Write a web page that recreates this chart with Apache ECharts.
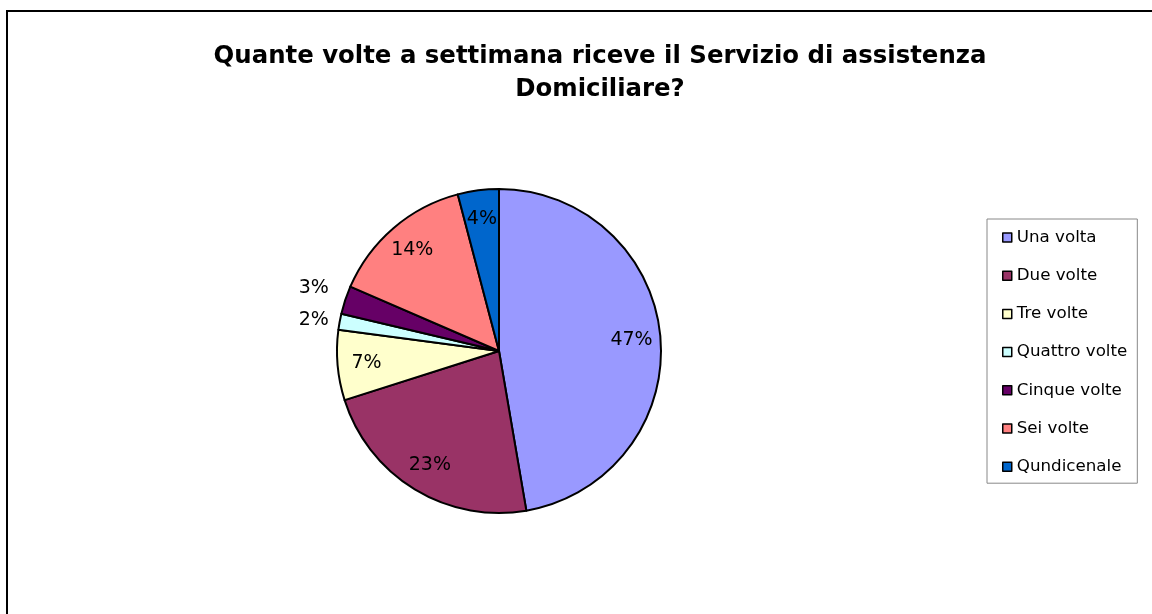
<!DOCTYPE html>
<html>
<head>
<meta charset="utf-8">
<script src="https://cdn.jsdelivr.net/npm/echarts@6/dist/echarts.min.js"></script>
<style>
html,body{margin:0;padding:0;background:#fff;}
#chart{width:1152px;height:614px;}
</style>
</head>
<body>
<div id="chart"></div>
<script>
const titleText = 'Quante volte a settimana riceve il Servizio di assistenza\nDomiciliare?';
const categories = ['Una volta', 'Due volte', 'Tre volte', 'Quattro volte', 'Cinque volte', 'Sei volte', 'Qundicenale'];
const values = [47.3, 22.8, 7.0, 1.6, 2.8, 14.4, 4.1];
const colors = ['#9999FF', '#993366', '#FFFFCC', '#CCFFFF', '#660066', '#FF8080', '#0066CC'];
const outsideLabel = [false, false, false, true, true, false, false];
const outsideLen = [0, 0, 0, 6, 12, 0, 0];
const outsideRaise = [false, false, false, false, true, false, false];

const FONT = 'DejaVu Sans';
const chart = echarts.init(document.getElementById('chart'), null, {renderer: 'canvas'});

const mainData = categories.map((c, i) => ({
  name: c,
  value: values[i],
  itemStyle: {color: colors[i]},
  label: {
    show: outsideLabel[i],
    formatter: outsideRaise[i] ? '{d}%\n' : '{d}%',
    lineHeight: outsideRaise[i] ? 16 : 19
  },
  labelLine: {show: false, length: outsideLen[i], length2: 0}
}));
const labelData = categories.map((c, i) => ({
  name: c,
  value: values[i],
  label: {show: !outsideLabel[i]}
}));

chart.setOption({
  animation: false,
  backgroundColor: '#fff',
  title: {
    text: titleText,
    left: 595,
    top: 35,
    textAlign: 'center',
    padding: 5,
    textStyle: {fontFamily: FONT, fontSize: 24.4, fontWeight: 'bold', color: '#000', lineHeight: 33}
  },
  legend: {
    orient: 'vertical',
    left: 987,
    top: 219,
    padding: [10, 10, 8, 15],
    itemGap: 21.2,
    itemWidth: 9,
    itemHeight: 9,
    icon: 'rect',
    borderColor: '#888',
    borderWidth: 1,
    data: categories,
    itemStyle: {borderColor: '#000', borderWidth: 1.5},
    textStyle: {fontFamily: FONT, fontSize: 16.7, color: '#000', lineHeight: 17}
  },
  graphic: [{
    type: 'rect',
    silent: true,
    shape: {x: 7, y: 11, width: 1400, height: 900},
    style: {fill: 'none', stroke: '#000', lineWidth: 2}
  }],
  series: [{
    type: 'pie',
    center: [499, 351],
    radius: [0, 162],
    startAngle: 90,
    clockwise: true,
    avoidLabelOverlap: false,
    labelLayout: {hideOverlap: false},
    percentPrecision: 0,
    data: mainData,
    itemStyle: {borderColor: '#000', borderWidth: 2},
    label: {position: 'outside', fontFamily: FONT, fontSize: 19, color: '#000', distanceToLabelLine: 5},
    emphasis: {disabled: true}
  }, {
    type: 'pie',
    center: [499, 351],
    radius: [0, 260],
    startAngle: 90,
    clockwise: true,
    silent: true,
    avoidLabelOverlap: false,
    labelLayout: {hideOverlap: false},
    percentPrecision: 0,
    z: 3,
    data: labelData,
    itemStyle: {color: 'rgba(0,0,0,0)', borderWidth: 0},
    label: {position: 'inside', formatter: '{d}%', fontFamily: FONT, fontSize: 19, color: '#000'},
    labelLine: {show: false},
    emphasis: {disabled: true}
  }]
});
</script>
</body>
</html>
